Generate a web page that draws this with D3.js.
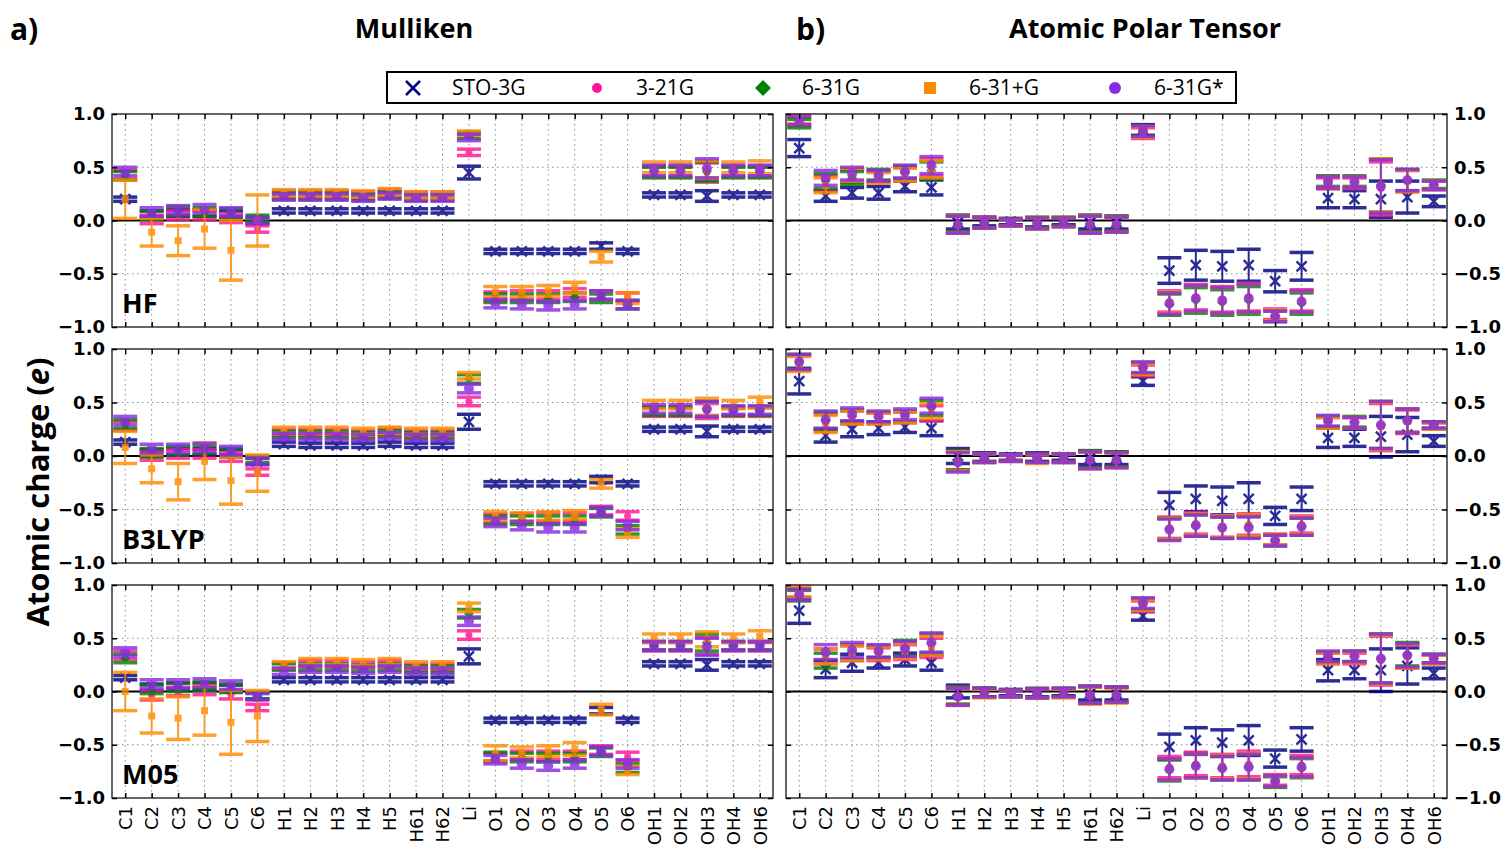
<!DOCTYPE html>
<html>
<head>
<meta charset="utf-8">
<script src="https://cdnjs.cloudflare.com/ajax/libs/d3/7.8.5/d3.min.js"></script>
<style>
  body { margin: 0; background: #fff; }
  svg { display: block; }
</style>
</head>
<body>
<div id="viz"></div>
<script>
// categories and series
const categories = ["C1","C2","C3","C4","C5","C6","H1","H2","H3","H4","H5","H61","H62","Li",
  "O1","O2","O3","O4","O5","O6","OH1","OH2","OH3","OH4","OH6"];
const basisSets = ["STO-3G","3-21G","6-31G","6-31+G","6-31G*"];
const basisColors = ["#000080","#ff1493","#008000","#ff8c00","#8a2be2"];
const yTicks = [-1, -0.5, 0, 0.5, 1];

// HF, Mulliken
const hfMul_sto = [0.20,0.06,0.07,0.07,0.06,0.00, 0.09,0.09,0.09,0.09,0.09,0.09,0.09, 0.45, -0.29,-0.29,-0.29,-0.29,-0.24,-0.29, 0.24,0.24,0.23,0.24,0.24];
const hfMul_stoErr = [0.02,0.03,0.03,0.03,0.03,0.03, 0.02,0.02,0.02,0.02,0.02,0.02,0.02, 0.06, 0.02,0.02,0.02,0.02,0.03,0.02, 0.02,0.02,0.05,0.02,0.02];
const hfMul_321 = [0.43,0.01,0.05,0.05,0.02,-0.08, 0.25,0.25,0.25,0.24,0.26,0.24,0.24, 0.64, -0.71,-0.70,-0.70,-0.68,-0.70,-0.72, 0.46,0.46,0.45,0.46,0.46];
const hfMul_631 = [0.42,0.05,0.09,0.08,0.07,0.02, 0.23,0.23,0.23,0.22,0.24,0.22,0.22, 0.80, -0.73,-0.73,-0.73,-0.72,-0.73,-0.79, 0.45,0.45,0.46,0.45,0.45];
const hfMul_631p = [0.20,-0.11,-0.19,-0.08,-0.28,0.00, 0.26,0.26,0.26,0.25,0.27,0.24,0.24, 0.82, -0.67,-0.67,-0.66,-0.63,-0.34,-0.73, 0.50,0.50,0.48,0.50,0.50];
const hfMul_631pErr = [0.18,0.13,0.14,0.18,0.28,0.24, 0.03,0.03,0.03,0.03,0.03,0.03,0.03, 0.02, 0.05,0.05,0.05,0.05,0.05,0.05, 0.05,0.05,0.08,0.05,0.06];
const hfMul_631s = [0.46,0.08,0.10,0.11,0.08,0.00, 0.22,0.22,0.22,0.21,0.23,0.21,0.21, 0.78, -0.78,-0.79,-0.80,-0.79,-0.70,-0.79, 0.47,0.47,0.49,0.47,0.47];
const hfMul_err = [0.04,0.04,0.04,0.04,0.04,0.03, 0.03,0.03,0.03,0.03,0.03,0.03,0.03, 0.03, 0.04,0.04,0.04,0.04,0.04,0.04, 0.05,0.05,0.09,0.05,0.05];

// HF, APT
const hfApt_sto = [0.68,0.23,0.26,0.26,0.32,0.31, -0.02,-0.01,-0.01,-0.02,-0.01,-0.02,-0.02, 0.85, -0.47,-0.42,-0.43,-0.42,-0.57,-0.43, 0.21,0.20,0.20,0.22,0.18];
const hfApt_stoErr = [0.08,0.05,0.05,0.06,0.05,0.07, 0.06,0.04,0.03,0.04,0.03,0.06,0.06, 0.05, 0.12,0.14,0.14,0.15,0.10,0.13, 0.09,0.08,0.17,0.15,0.05];
const hfApt_321 = [0.93,0.35,0.42,0.41,0.44,0.50, -0.03,-0.02,-0.02,-0.02,-0.01,-0.03,-0.03, 0.82, -0.76,-0.72,-0.74,-0.72,-0.88,-0.75, 0.35,0.35,0.30,0.37,0.33];
const hfApt_631 = [0.91,0.37,0.40,0.43,0.45,0.47, -0.03,-0.02,-0.02,-0.02,-0.01,-0.03,-0.03, 0.84, -0.79,-0.75,-0.77,-0.75,-0.90,-0.78, 0.37,0.37,0.33,0.38,0.34];
const hfApt_631p = [0.95,0.33,0.43,0.40,0.43,0.48, -0.04,-0.02,-0.02,-0.03,-0.02,-0.04,-0.04, 0.83, -0.77,-0.73,-0.75,-0.73,-0.89,-0.76, 0.36,0.36,0.33,0.37,0.33];
const hfApt_631s = [0.94,0.40,0.44,0.42,0.46,0.52, -0.04,-0.02,-0.02,-0.03,-0.02,-0.04,-0.04, 0.84, -0.78,-0.73,-0.75,-0.73,-0.90,-0.76, 0.36,0.36,0.32,0.38,0.33];
const hfApt_err = [0.04,0.07,0.06,0.05,0.06,0.08, 0.08,0.05,0.03,0.05,0.04,0.08,0.07, 0.05, 0.10,0.12,0.12,0.13,0.05,0.10, 0.05,0.05,0.25,0.10,0.04];

// B3LYP, Mulliken
const b3Mul_sto = [0.13,0.03,0.04,0.04,0.03,-0.05, 0.11,0.10,0.10,0.10,0.11,0.10,0.10, 0.32, -0.26,-0.26,-0.26,-0.26,-0.22,-0.26, 0.25,0.25,0.23,0.25,0.25];
const b3Mul_stoErr = [0.02,0.03,0.03,0.03,0.03,0.03, 0.02,0.02,0.02,0.02,0.02,0.02,0.02, 0.07, 0.02,0.02,0.02,0.02,0.03,0.02, 0.02,0.02,0.05,0.02,0.02];
const b3Mul_321 = [0.28,0.00,0.02,0.02,-0.01,-0.15, 0.22,0.22,0.22,0.21,0.23,0.21,0.21, 0.51, -0.58,-0.58,-0.57,-0.57,-0.51,-0.56, 0.41,0.41,0.42,0.41,0.41];
const b3Mul_631 = [0.30,0.03,0.05,0.06,0.03,-0.03, 0.20,0.20,0.20,0.19,0.21,0.19,0.19, 0.72, -0.60,-0.60,-0.60,-0.60,-0.53,-0.69, 0.42,0.42,0.44,0.42,0.42];
const b3Mul_631p = [0.08,-0.12,-0.24,-0.05,-0.23,-0.16, 0.24,0.24,0.24,0.23,0.24,0.23,0.23, 0.75, -0.56,-0.57,-0.56,-0.55,-0.26,-0.72, 0.48,0.48,0.46,0.48,0.50];
const b3Mul_631pErr = [0.15,0.13,0.17,0.17,0.22,0.17, 0.03,0.03,0.03,0.03,0.03,0.03,0.03, 0.03, 0.04,0.04,0.04,0.04,0.04,0.04, 0.04,0.04,0.08,0.04,0.05];
const b3Mul_631s = [0.33,0.07,0.07,0.08,0.05,-0.05, 0.18,0.18,0.18,0.17,0.19,0.17,0.17, 0.63, -0.62,-0.65,-0.67,-0.67,-0.52,-0.65, 0.44,0.44,0.44,0.43,0.43];
const b3Mul_err = [0.04,0.04,0.04,0.04,0.04,0.03, 0.03,0.03,0.03,0.03,0.03,0.03,0.03, 0.04, 0.04,0.04,0.04,0.04,0.04,0.04, 0.04,0.04,0.07,0.04,0.04];

// B3LYP, APT
const b3Apt_sto = [0.70,0.19,0.25,0.26,0.27,0.26, 0.00,-0.01,-0.01,-0.01,-0.01,-0.02,-0.02, 0.70, -0.46,-0.40,-0.42,-0.40,-0.56,-0.40, 0.17,0.17,0.18,0.20,0.14];
const b3Apt_stoErr = [0.12,0.06,0.07,0.06,0.05,0.07, 0.07,0.04,0.03,0.04,0.03,0.06,0.06, 0.04, 0.12,0.12,0.13,0.15,0.08,0.11, 0.09,0.08,0.19,0.16,0.05];
const b3Apt_321 = [0.87,0.31,0.36,0.35,0.36,0.40, -0.04,-0.02,-0.02,-0.02,-0.02,-0.03,-0.03, 0.80, -0.67,-0.63,-0.66,-0.64,-0.78,-0.64, 0.31,0.31,0.27,0.32,0.28];
const b3Apt_631 = [0.88,0.33,0.37,0.36,0.37,0.45, -0.04,-0.02,-0.02,-0.02,-0.02,-0.03,-0.03, 0.82, -0.68,-0.65,-0.67,-0.66,-0.79,-0.66, 0.32,0.32,0.29,0.33,0.29];
const b3Apt_631p = [0.86,0.30,0.36,0.35,0.36,0.42, -0.05,-0.02,-0.02,-0.03,-0.02,-0.04,-0.04, 0.81, -0.68,-0.64,-0.66,-0.65,-0.78,-0.65, 0.31,0.31,0.28,0.33,0.28];
const b3Apt_631s = [0.88,0.34,0.39,0.37,0.39,0.47, -0.06,-0.02,-0.02,-0.02,-0.02,-0.04,-0.04, 0.83, -0.69,-0.65,-0.67,-0.67,-0.79,-0.66, 0.33,0.31,0.29,0.33,0.29];
const b3Apt_err = [0.07,0.08,0.06,0.05,0.05,0.07, 0.09,0.04,0.03,0.04,0.04,0.08,0.07, 0.05, 0.10,0.10,0.10,0.10,0.05,0.08, 0.05,0.05,0.22,0.11,0.03];

// M05, Mulliken
const m05Mul_sto = [0.13,0.04,0.05,0.05,0.03,-0.04, 0.11,0.11,0.11,0.11,0.11,0.11,0.11, 0.33, -0.27,-0.27,-0.27,-0.27,-0.18,-0.27, 0.26,0.26,0.25,0.26,0.26];
const m05Mul_stoErr = [0.02,0.03,0.03,0.03,0.03,0.03, 0.02,0.02,0.02,0.02,0.02,0.02,0.02, 0.07, 0.02,0.02,0.02,0.02,0.03,0.02, 0.02,0.02,0.05,0.02,0.02];
const m05Mul_321 = [0.34,-0.04,0.00,0.01,-0.03,-0.15, 0.24,0.26,0.26,0.25,0.26,0.23,0.23, 0.53, -0.62,-0.60,-0.60,-0.60,-0.55,-0.61, 0.42,0.42,0.43,0.42,0.42];
const m05Mul_631 = [0.31,0.02,0.04,0.05,0.03,-0.04, 0.23,0.23,0.23,0.22,0.23,0.21,0.21, 0.73, -0.61,-0.62,-0.62,-0.62,-0.57,-0.72, 0.43,0.43,0.46,0.43,0.43];
const m05Mul_631p = [0.00,-0.23,-0.25,-0.18,-0.29,-0.23, 0.25,0.28,0.28,0.27,0.28,0.25,0.25, 0.79, -0.58,-0.57,-0.56,-0.54,-0.17,-0.74, 0.50,0.50,0.49,0.50,0.52];
const m05Mul_631pErr = [0.18,0.16,0.20,0.23,0.30,0.24, 0.03,0.03,0.03,0.03,0.03,0.03,0.03, 0.04, 0.07,0.05,0.05,0.06,0.05,0.04, 0.04,0.04,0.07,0.04,0.05];
const m05Mul_631s = [0.37,0.07,0.07,0.08,0.06,-0.05, 0.19,0.21,0.21,0.20,0.21,0.19,0.19, 0.66, -0.64,-0.68,-0.70,-0.68,-0.56,-0.68, 0.43,0.43,0.42,0.43,0.43];
const m05Mul_err = [0.04,0.04,0.04,0.04,0.04,0.03, 0.03,0.03,0.03,0.03,0.03,0.03,0.03, 0.04, 0.04,0.04,0.04,0.04,0.04,0.04, 0.04,0.04,0.08,0.04,0.04];

// M05, APT
const m05Apt_sto = [0.76,0.21,0.27,0.27,0.30,0.27, 0.00,-0.01,-0.01,-0.01,-0.01,-0.02,-0.02, 0.71, -0.52,-0.46,-0.48,-0.46,-0.63,-0.45, 0.20,0.20,0.20,0.24,0.17];
const m05Apt_stoErr = [0.12,0.08,0.08,0.05,0.06,0.07, 0.06,0.04,0.03,0.04,0.03,0.06,0.06, 0.04, 0.12,0.12,0.12,0.14,0.08,0.11, 0.10,0.08,0.20,0.17,0.05];
const m05Apt_321 = [0.92,0.33,0.36,0.35,0.37,0.41, -0.04,-0.01,-0.02,-0.02,-0.01,-0.03,-0.03, 0.80, -0.71,-0.68,-0.70,-0.68,-0.83,-0.69, 0.31,0.31,0.29,0.33,0.30];
const m05Apt_631 = [0.90,0.29,0.37,0.37,0.41,0.45, -0.04,-0.01,-0.02,-0.02,-0.01,-0.03,-0.03, 0.82, -0.74,-0.70,-0.72,-0.71,-0.85,-0.72, 0.32,0.33,0.31,0.35,0.31];
const m05Apt_631p = [0.94,0.33,0.36,0.36,0.38,0.43, -0.05,-0.02,-0.02,-0.02,-0.02,-0.04,-0.04, 0.81, -0.73,-0.70,-0.71,-0.70,-0.84,-0.71, 0.31,0.32,0.30,0.33,0.30];
const m05Apt_631s = [0.91,0.37,0.39,0.38,0.40,0.46, -0.05,-0.01,-0.02,-0.02,-0.01,-0.03,-0.03, 0.83, -0.73,-0.70,-0.72,-0.71,-0.84,-0.71, 0.33,0.33,0.31,0.34,0.31];
const m05Apt_err = [0.05,0.07,0.07,0.06,0.07,0.09, 0.08,0.04,0.03,0.04,0.04,0.08,0.07, 0.05, 0.10,0.11,0.11,0.12,0.05,0.09, 0.05,0.05,0.23,0.11,0.04];

// panel layout (pixels)
const cols = [{x0: 112, x1: 773}, {x0: 786, x1: 1447}];
const rows = [{y0: 114, y1: 327}, {y0: 349, y1: 563}, {y0: 585, y1: 798}];

const panels = [
  {row: 0, col: 0, label: "HF", means: [hfMul_sto, hfMul_321, hfMul_631, hfMul_631p, hfMul_631s], errs: [hfMul_stoErr, hfMul_err, hfMul_err, hfMul_631pErr, hfMul_err]},
  {row: 0, col: 1, label: null, means: [hfApt_sto, hfApt_321, hfApt_631, hfApt_631p, hfApt_631s], errs: [hfApt_stoErr, hfApt_err, hfApt_err, hfApt_err, hfApt_err]},
  {row: 1, col: 0, label: "B3LYP", means: [b3Mul_sto, b3Mul_321, b3Mul_631, b3Mul_631p, b3Mul_631s], errs: [b3Mul_stoErr, b3Mul_err, b3Mul_err, b3Mul_631pErr, b3Mul_err]},
  {row: 1, col: 1, label: null, means: [b3Apt_sto, b3Apt_321, b3Apt_631, b3Apt_631p, b3Apt_631s], errs: [b3Apt_stoErr, b3Apt_err, b3Apt_err, b3Apt_err, b3Apt_err]},
  {row: 2, col: 0, label: "M05", means: [m05Mul_sto, m05Mul_321, m05Mul_631, m05Mul_631p, m05Mul_631s], errs: [m05Mul_stoErr, m05Mul_err, m05Mul_err, m05Mul_631pErr, m05Mul_err]},
  {row: 2, col: 1, label: null, means: [m05Apt_sto, m05Apt_321, m05Apt_631, m05Apt_631p, m05Apt_631s], errs: [m05Apt_stoErr, m05Apt_err, m05Apt_err, m05Apt_err, m05Apt_err]}
];

const markerShapes = ["x", "circle", "diamond", "square", "circle"];
const markerSizes = [5, 3.5, 5, 3.5, 5];   // plot
const legendSizes = [7, 5, 8, 6, 6];       // legend

const svg = d3.select('#viz')
  .append('svg')
  .attr('width', 1510)
  .attr('height', 849)
  .style('font-family', "'Open Sans', sans-serif");

// draws one marker at (cx, cy)
function drawMarker(g, shape, cx, cy, s, color) {
  if (shape === "x") {
    g.append('path')
      .attr('d', `M${cx - s},${cy - s}L${cx + s},${cy + s}M${cx - s},${cy + s}L${cx + s},${cy - s}`)
      .attr('stroke', color).attr('stroke-width', 2.5).attr('fill', 'none');
  } else if (shape === "circle") {
    g.append('circle').attr('cx', cx).attr('cy', cy).attr('r', s).attr('fill', color);
  } else if (shape === "diamond") {
    g.append('path')
      .attr('d', `M${cx},${cy - s}L${cx + s},${cy}L${cx},${cy + s}L${cx - s},${cy}Z`)
      .attr('fill', color);
  } else {
    g.append('rect').attr('x', cx - s).attr('y', cy - s)
      .attr('width', 2 * s).attr('height', 2 * s).attr('fill', color);
  }
}

panels.forEach(p => {
  const c = cols[p.col], r = rows[p.row];
  const x = d3.scalePoint().domain(categories).range([c.x0, c.x1]).padding(0.5);
  const y = d3.scaleLinear().domain([-1, 1]).range([r.y1, r.y0]);
  const g = svg.append('g');

  // dotted grid
  g.append('g').selectAll('line')
    .data(categories)
    .join('line')
    .attr('x1', d => x(d)).attr('x2', d => x(d))
    .attr('y1', r.y0).attr('y2', r.y1)
    .attr('stroke', '#8a8a8a').attr('stroke-width', 1)
    .attr('stroke-dasharray', '1.5,3.5');
  g.append('g').selectAll('line')
    .data([-0.5, 0.5])
    .join('line')
    .attr('x1', c.x0).attr('x2', c.x1)
    .attr('y1', d => y(d)).attr('y2', d => y(d))
    .attr('stroke', '#8a8a8a').attr('stroke-width', 1)
    .attr('stroke-dasharray', '1.5,3.5');

  // zero line
  g.append('line')
    .attr('x1', c.x0).attr('x2', c.x1)
    .attr('y1', y(0)).attr('y2', y(0))
    .attr('stroke', '#000').attr('stroke-width', 2);

  // error bars + markers, one series at a time
  basisSets.forEach((b, si) => {
    const col = basisColors[si];
    const sg = g.append('g').attr('opacity', 0.82);
    const pts = categories.map((cat, i) => ({cat, m: p.means[si][i], e: p.errs[si][i]}));
    sg.selectAll('line.bar')
      .data(pts)
      .join('line')
      .attr('class', 'bar')
      .attr('x1', d => x(d.cat)).attr('x2', d => x(d.cat))
      .attr('y1', d => y(d.m - d.e)).attr('y2', d => y(d.m + d.e))
      .attr('stroke', col).attr('stroke-width', 2);
    const caps = pts.flatMap(d => [{cat: d.cat, v: d.m - d.e}, {cat: d.cat, v: d.m + d.e}]);
    sg.selectAll('line.cap')
      .data(caps)
      .join('line')
      .attr('class', 'cap')
      .attr('x1', d => x(d.cat) - 12).attr('x2', d => x(d.cat) + 12)
      .attr('y1', d => y(d.v)).attr('y2', d => y(d.v))
      .attr('stroke', col).attr('stroke-width', 3.5);
    pts.forEach(d => drawMarker(sg, markerShapes[si], x(d.cat), y(d.m), markerSizes[si], col));
  });

  // frame
  g.append('rect')
    .attr('x', c.x0).attr('y', r.y0)
    .attr('width', c.x1 - c.x0).attr('height', r.y1 - r.y0)
    .attr('fill', 'none').attr('stroke', '#333').attr('stroke-width', 1.5);

  // ticks on all four sides, pointing inward
  const bottomAxis = g.append('g')
    .attr('transform', `translate(0,${r.y1})`)
    .call(d3.axisBottom(x).tickSize(-5).tickFormat(p.row === 2 ? null : () => ""));
  g.append('g')
    .attr('transform', `translate(0,${r.y0})`)
    .call(d3.axisTop(x).tickSize(-5).tickFormat(() => ""));
  const leftAxis = g.append('g')
    .attr('transform', `translate(${c.x0},0)`)
    .call(d3.axisLeft(y).tickValues(yTicks).tickSize(-5).tickPadding(7)
      .tickFormat(p.col === 0 ? d3.format('.1f') : () => ""));
  const rightAxis = g.append('g')
    .attr('transform', `translate(${c.x1},0)`)
    .call(d3.axisRight(y).tickValues(yTicks).tickSize(-5).tickPadding(7)
      .tickFormat(p.col === 1 ? d3.format('.1f') : () => ""));
  g.selectAll('.domain').remove();
  g.selectAll('.tick line').attr('stroke', '#000').attr('stroke-width', 1.5);
  [leftAxis, rightAxis].forEach(a => a.selectAll('text')
    .attr('font-family', "'DejaVu Sans', sans-serif")
    .attr('font-weight', 'bold')
    .attr('font-size', 18)
    .attr('fill', '#000'));
  if (p.row === 2) {
    bottomAxis.selectAll('text')
      .attr('font-family', "'DejaVu Sans', sans-serif")
      .attr('font-size', 18)
      .attr('fill', '#000')
      .attr('text-anchor', 'end')
      .attr('transform', 'rotate(-90)')
      .attr('x', -8).attr('y', 0).attr('dy', '0.35em');
  }

  // method label inside panel
  if (p.label) {
    g.append('text')
      .attr('x', c.x0 + 10).attr('y', r.y1 - 14)
      .attr('font-size', 27).attr('font-weight', 'bold')
      .text(p.label);
  }
});

// titles
svg.append('text').attr('x', 10).attr('y', 40).attr('font-size', 30).attr('font-weight', 'bold').text('a)');
svg.append('text').attr('x', 796).attr('y', 40).attr('font-size', 30).attr('font-weight', 'bold').text('b)');
svg.append('text').attr('x', 414).attr('y', 38).attr('text-anchor', 'middle')
  .attr('font-size', 27).attr('font-weight', 'bold').text('Mulliken');
svg.append('text').attr('x', 1145).attr('y', 38).attr('text-anchor', 'middle')
  .attr('font-size', 27).attr('font-weight', 'bold').text('Atomic Polar Tensor');

// y label
const yl = svg.append('text')
  .attr('transform', 'translate(49,492) rotate(-90)')
  .attr('text-anchor', 'middle')
  .attr('font-size', 31).attr('font-weight', 'bold');
yl.append('tspan').text('Atomic charge (');
yl.append('tspan').attr('font-style', 'italic').text('e');
yl.append('tspan').text(')');

// legend
const legendX = [413, 597, 763, 930, 1115];
const legend = svg.append('g');
legend.append('rect')
  .attr('x', 387).attr('y', 72).attr('width', 849).attr('height', 31)
  .attr('fill', '#fff').attr('stroke', '#000').attr('stroke-width', 2);
basisSets.forEach((b, i) => {
  drawMarker(legend, markerShapes[i], legendX[i], 88, legendSizes[i], basisColors[i]);
  legend.append('text')
    .attr('x', legendX[i] + 39).attr('y', 88).attr('dy', '0.35em')
    .attr('font-size', 21).text(b);
});
</script>
</body>
</html>
